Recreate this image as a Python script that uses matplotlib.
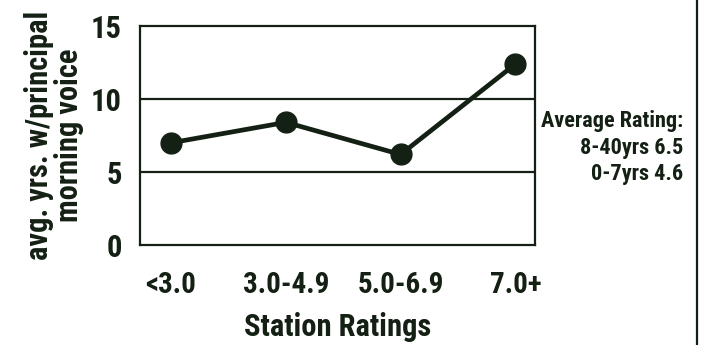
import matplotlib
matplotlib.use("Agg")
import matplotlib.pyplot as plt
from matplotlib.lines import Line2D
from matplotlib import font_manager

categories = ["<3.0", "3.0-4.9", "5.0-6.9", "7.0+"]
avg_years = [7.0, 8.4, 6.2, 12.4]
y_ticks = [0, 5, 10, 15]
note_lines = ["Average Rating:", "8-40yrs 6.5", "0-7yrs 4.6"]

avail = {f.name for f in font_manager.fontManager.ttflist}
fam = [f for f in ["Roboto Condensed", "Barlow Condensed", "Archivo Narrow",
                   "Asap Condensed", "DejaVu Sans"] if f in avail]
plt.rcParams['font.family'] = fam
W = 800
plt.rcParams['font.weight'] = W

ink = "#142014"

fig = plt.figure(figsize=(7.04, 3.45), dpi=100)
ax = fig.add_axes([140/704, 1-245/345, (535-140)/704, (245-26)/345])

x = list(range(len(categories)))
ax.plot(x, avg_years, color=ink, lw=3.4, marker='o', markersize=15,
        markerfacecolor=ink, markeredgecolor=ink, solid_capstyle='round', zorder=3)

ax.set_ylim(0, 15)
ax.set_xlim(-0.27, 3.17)
ax.set_yticks(y_ticks)
ax.set_yticklabels([str(v) for v in y_ticks], fontsize=22, fontweight=W, color=ink)
ax.set_xticks(x)
ax.set_xticklabels(categories, fontsize=21, fontweight=W, color=ink)
ax.tick_params(axis='both', length=0)
ax.tick_params(axis='y', pad=13)
ax.tick_params(axis='x', pad=19)
for v in [5, 10]:
    ax.axhline(v, color=ink, lw=1.6, zorder=1)
for s in ax.spines.values():
    s.set_color(ink)
    s.set_linewidth(1.6)

ax.set_xlabel("Station Ratings", fontsize=22, fontweight=W, color=ink, labelpad=9)
ax.set_ylabel("avg. yrs. w/principal\nmorning voice", fontsize=22, fontweight=W,
              color=ink, labelpad=5, linespacing=1.0)

ys = [121, 148, 174]
for t, yy in zip(note_lines, ys):
    fig.text(683/704, 1-yy/345, t, ha='right', va='center', fontsize=16,
             fontweight=W, color=ink)

fig.add_artist(Line2D([697/704, 697/704], [0, 1], transform=fig.transFigure,
                      color=ink, lw=1.6))

fig.savefig("out.png", dpi=100)
